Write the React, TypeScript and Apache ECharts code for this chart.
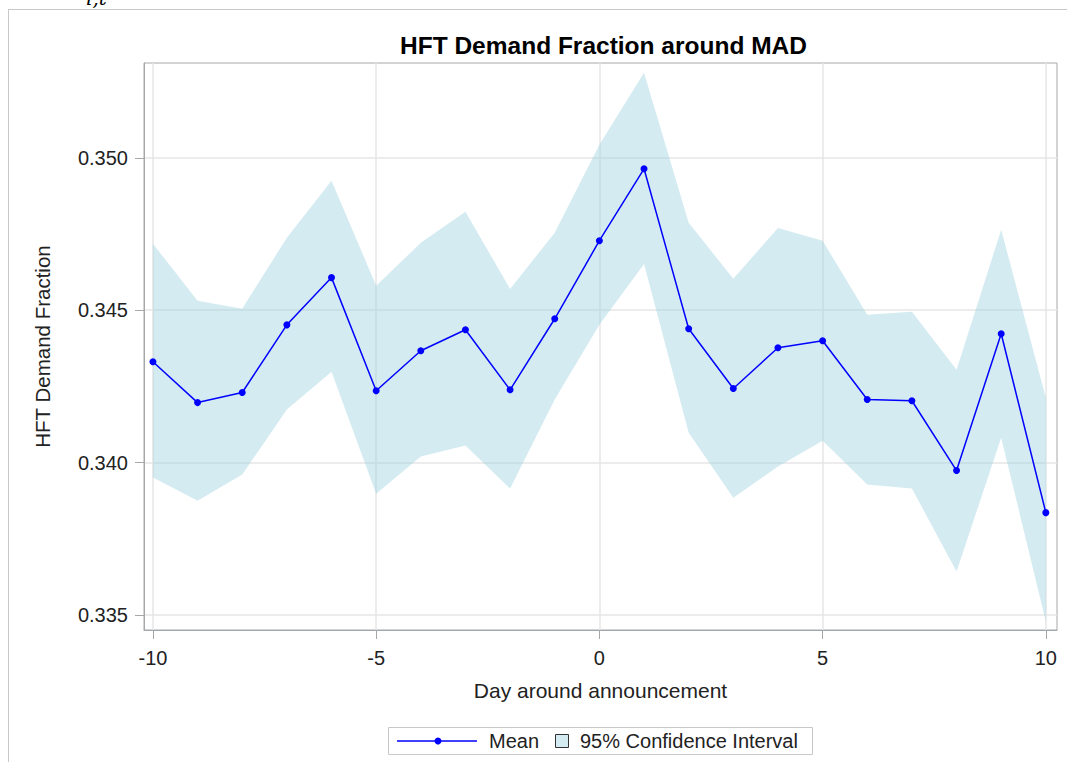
import React, { useEffect, useRef } from "react";
import * as echarts from "echarts";

const days = [-10, -9, -8, -7, -6, -5, -4, -3, -2, -1, 0, 1, 2, 3, 4, 5, 6, 7, 8, 9, 10];
const meanValues = [0.34331, 0.34197, 0.3423, 0.34452, 0.34607, 0.34236, 0.34367, 0.34436, 0.34239, 0.34472, 0.34728, 0.34964, 0.34439, 0.34243, 0.34377, 0.344, 0.34207, 0.34203, 0.33974, 0.34423, 0.33836];
const upperValues = [0.34718, 0.34531, 0.34505, 0.34738, 0.34925, 0.3458, 0.34721, 0.34823, 0.3457, 0.34754, 0.35043, 0.35279, 0.34787, 0.34603, 0.3477, 0.34728, 0.34485, 0.34495, 0.34305, 0.34764, 0.34213];
const lowerValues = [0.33951, 0.33875, 0.33961, 0.34174, 0.34298, 0.33898, 0.3402, 0.34056, 0.33915, 0.34207, 0.34452, 0.34652, 0.34098, 0.33885, 0.33987, 0.34072, 0.33928, 0.33915, 0.33643, 0.34082, 0.33479];
const xTicks = [-10, -5, 0, 5, 10];
const yTicks = [0.335, 0.34, 0.345, 0.35];

const FONT = "'Liberation Sans', Arial, sans-serif";
const BAND = "rgba(160,210,225,0.45)";

export default function App() {
  const ref = useRef<HTMLDivElement>(null);
  useEffect(() => {
    if (!ref.current) return;
    const chart = echarts.init(ref.current, undefined, { renderer: "svg" });
    const option: any = {
      animation: false,
      backgroundColor: "#ffffff",
      textStyle: { fontFamily: FONT },
      title: {
        text: "HFT Demand Fraction around MAD",
        left: 395,
        top: 28,
        textStyle: { fontFamily: FONT, fontSize: 24.5, fontWeight: "bold", color: "#000" },
      },
      grid: {
        left: 144,
        top: 63,
        right: 10,
        bottom: 132,
        show: true,
        borderColor: "#a5a8ab",
        borderWidth: 1,
        backgroundColor: "transparent",
      },
      xAxis: {
        type: "value",
        min: -10.2,
        max: 10.25,
        name: "Day around announcement",
        nameLocation: "middle",
        nameGap: 50,
        nameTextStyle: { fontFamily: FONT, fontSize: 21, color: "#222" },
        axisLine: { show: true, onZero: false, lineStyle: { color: "#a5a8ab" } },
        axisTick: { show: true, length: 9, customValues: xTicks, lineStyle: { color: "#a5a8ab" } },
        axisLabel: {
          customValues: xTicks,
          margin: 18,
          fontFamily: FONT,
          fontSize: 20,
          color: "#222",
        },
        splitLine: { show: true, lineStyle: { color: "#e6e6e6", width: 1.5 } },
      },
      yAxis: {
        type: "value",
        min: 0.33451,
        max: 0.35311,
        name: "HFT Demand Fraction",
        nameLocation: "middle",
        nameGap: 91,
        nameTextStyle: { fontFamily: FONT, fontSize: 20.5, color: "#222" },
        axisLine: { show: true, onZero: false, lineStyle: { color: "#a5a8ab" } },
        axisTick: { show: true, length: 9, customValues: yTicks, lineStyle: { color: "#a5a8ab" } },
        axisLabel: {
          customValues: yTicks,
          margin: 16,
          fontFamily: FONT,
          fontSize: 20,
          color: "#222",
          formatter: (v: number) => v.toFixed(3),
        },
        splitLine: { show: true, lineStyle: { color: "#e6e6e6", width: 1.5 } },
      },
      series: [
        {
          name: "95% Confidence Interval",
          type: "custom",
          data: days.map((d, i) => [d, lowerValues[i], upperValues[i]]),
          encode: { x: 0, y: [1, 2] },
          silent: true,
          z: 1,
          renderItem: (params: any, api: any) => {
            if (params.dataIndex !== 0) return null;
            const pts: number[][] = [];
            for (let j = 0; j < days.length; j++) pts.push(api.coord([days[j], upperValues[j]]));
            for (let j = days.length - 1; j >= 0; j--) pts.push(api.coord([days[j], lowerValues[j]]));
            return {
              type: "polygon",
              shape: { points: pts },
              style: { fill: BAND, stroke: "none" },
            };
          },
        },
        {
          name: "Mean",
          type: "line",
          data: days.map((d, i) => [d, meanValues[i]]),
          symbol: "circle",
          symbolSize: 7,
          itemStyle: { color: "#0000ff" },
          lineStyle: { color: "#0000ff", width: 1.5 },
          z: 3,
        },
      ],
      graphic: [
        {
          type: "line",
          shape: { x1: 8, y1: 9.5, x2: 1067, y2: 9.5 },
          style: { stroke: "#c8c8c8", lineWidth: 1 },
        },
        {
          type: "line",
          shape: { x1: 8.5, y1: 9.5, x2: 8.5, y2: 762 },
          style: { stroke: "#c8c8c8", lineWidth: 1 },
        },
        {
          type: "text",
          x: 86,
          y: 8,
          style: {
            text: "i,t",
            fontFamily: "'DejaVu Serif', serif",
            fontStyle: "italic",
            fontSize: 20,
            fill: "#000",
            textVerticalAlign: "bottom",
          },
        },
        {
          type: "rect",
          shape: { x: 388.5, y: 727.5, width: 424, height: 27 },
          style: { fill: "#fff", stroke: "#c8c8c8", lineWidth: 1 },
        },
        {
          type: "line",
          shape: { x1: 397, y1: 741, x2: 477, y2: 741 },
          style: { stroke: "#0000ff", lineWidth: 1.5 },
        },
        {
          type: "circle",
          shape: { cx: 438, cy: 741, r: 3.5 },
          style: { fill: "#0000ff" },
        },
        {
          type: "text",
          x: 489,
          y: 741,
          style: { text: "Mean", fontFamily: FONT, fontSize: 20, fill: "#222", textVerticalAlign: "middle" },
        },
        {
          type: "rect",
          shape: { x: 555.5, y: 734.5, width: 13, height: 13 },
          style: { fill: "#d5ebf2", stroke: "#333", lineWidth: 1 },
        },
        {
          type: "text",
          x: 580,
          y: 741,
          style: { text: "95% Confidence Interval", fontFamily: FONT, fontSize: 20, fill: "#222", textVerticalAlign: "middle" },
        },
      ],
    };
    chart.setOption(option);
    return () => chart.dispose();
  }, []);
  return (
    <div
      ref={ref}
      style={{ position: "fixed", left: 0, top: 0, width: 1067, height: 762 }}
    />
  );
}
